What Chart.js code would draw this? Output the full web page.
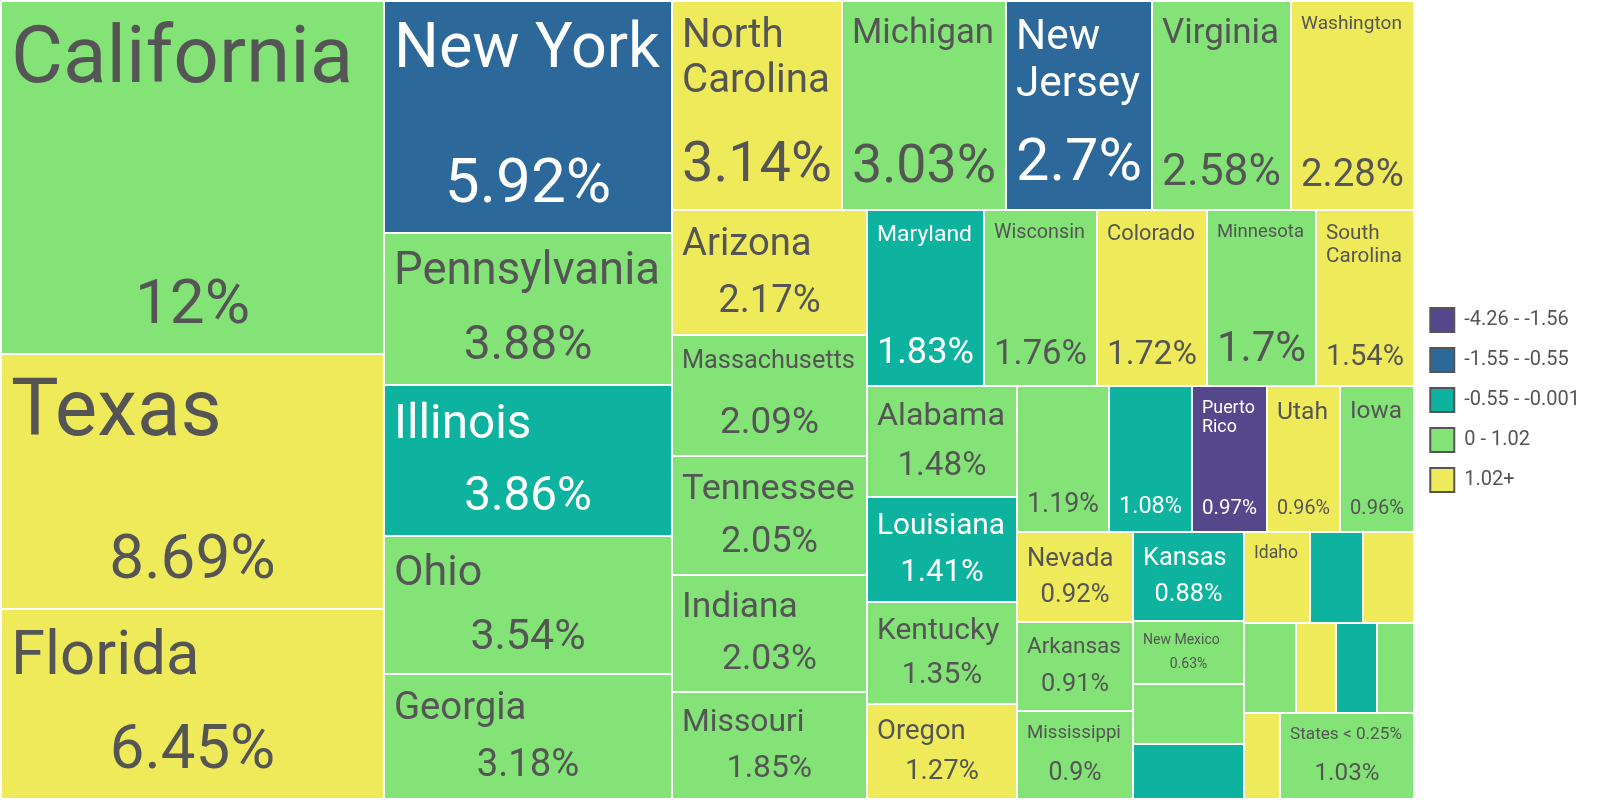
<!DOCTYPE html>
<html>
<head>
<meta charset="utf-8">
<script src="https://cdn.jsdelivr.net/npm/chart.js@4/dist/chart.umd.min.js"></script>
<style>
  html, body { margin: 0; padding: 0; background: #ffffff; }
  #wrap { width: 1600px; height: 800px; position: relative; }
</style>
</head>
<body>
<div id="wrap"><canvas id="chart"></canvas></div>
<script>
// ---- data (share of US population, %, colour class = growth bucket) ----
const states = [
  "California", "Texas", "Florida", "New York", "Pennsylvania", "Illinois", "Ohio", "Georgia",
  "North Carolina", "Michigan", "New Jersey", "Virginia", "Washington",
  "Arizona", "Massachusetts", "Tennessee", "Indiana", "Missouri",
  "Maryland", "Wisconsin", "Colorado", "Minnesota", "South Carolina",
  "Alabama", "Louisiana", "Kentucky", "Oregon",
  "Oklahoma", "Connecticut", "Puerto Rico", "Utah", "Iowa",
  "Nevada", "Arkansas", "Mississippi",
  "Kansas", "New Mexico", "Nebraska", "West Virginia",
  "Idaho", "Hawaii", "New Hampshire",
  "Maine", "Montana", "Rhode Island", "Delaware",
  "South Dakota", "States < 0.25%"
];
const shares = [
  12, 8.69, 6.45, 5.92, 3.88, 3.86, 3.54, 3.18,
  3.14, 3.03, 2.7, 2.58, 2.28,
  2.17, 2.09, 2.05, 2.03, 1.85,
  1.83, 1.76, 1.72, 1.7, 1.54,
  1.48, 1.41, 1.35, 1.27,
  1.19, 1.08, 0.97, 0.96, 0.96,
  0.92, 0.91, 0.9,
  0.88, 0.63, 0.59, 0.55,
  0.53, 0.43, 0.41,
  0.41, 0.32, 0.32, 0.3,
  0.27, 1.03
];
// index into legendLabels / classColors
const growthClass = [
  3, 4, 4, 1, 3, 2, 3, 3,
  4, 3, 1, 3, 4,
  4, 3, 3, 3, 3,
  2, 3, 4, 3, 4,
  3, 2, 3, 4,
  3, 2, 0, 4, 3,
  4, 3, 3,
  2, 3, 3, 2,
  4, 2, 4,
  3, 4, 2, 3,
  4, 3
];
const legendLabels = ["-4.26 - -1.56", "-1.55 - -0.55", "-0.55 - -0.001", "0 - 1.02", "1.02+"];
const classColors = ["#54478C", "#2C699A", "#0DB39E", "#83E377", "#EFEA5A"];
const darkText = "#555555";
const lightText = "#ffffff";
const FONT = "Roboto, 'Noto Sans', sans-serif";

// ---- squarified layout (golden-ratio squarify), in value space ----
function squarify(vals, W, H) {
  const phi = (1 + Math.sqrt(5)) / 2;
  const out = new Array(vals.length);
  let x0 = 0, y0 = 0, x1 = W, y1 = H;
  let value = vals.reduce((a, b) => a + b, 0);
  let i0 = 0, i1 = 0;
  const n = vals.length;
  while (i0 < n) {
    const dx = x1 - x0, dy = y1 - y0;
    let sumValue = vals[i1++];
    let minValue = sumValue, maxValue = sumValue;
    const alpha = Math.max(dy / dx, dx / dy) / (value * phi);
    let beta = sumValue * sumValue * alpha;
    let minRatio = Math.max(maxValue / beta, beta / minValue);
    for (; i1 < n; ++i1) {
      const nv = vals[i1];
      sumValue += nv;
      if (nv < minValue) minValue = nv;
      if (nv > maxValue) maxValue = nv;
      beta = sumValue * sumValue * alpha;
      const newRatio = Math.max(maxValue / beta, beta / minValue);
      if (newRatio > minRatio) { sumValue -= nv; break; }
      minRatio = newRatio;
    }
    if (dx < dy) {
      const ny = y0 + dy * sumValue / value;
      let x = x0; const k = (x1 - x0) / sumValue;
      for (let i = i0; i < i1; i++) { const nx = x + vals[i] * k; out[i] = { x0: x, y0: y0, x1: nx, y1: ny }; x = nx; }
      y0 = ny;
    } else {
      const nx = x0 + dx * sumValue / value;
      let y = y0; const k = (y1 - y0) / sumValue;
      for (let i = i0; i < i1; i++) { const ny = y + vals[i] * k; out[i] = { x0: x0, y0: y, x1: nx, y1: ny }; y = ny; }
      x0 = nx;
    }
    value -= sumValue;
    i0 = i1;
  }
  return out;
}

function emWidth(ctx, text) {
  ctx.font = "100px " + FONT;
  return ctx.measureText(text).width / 100;
}

const treemapPlugin = {
  id: 'treemap',
  afterDatasetsDraw(chart) {
    const { ctx, scales: { x, y } } = chart;
    const Wp = x.getPixelForValue(1) - x.getPixelForValue(0);
    const Hp = y.getPixelForValue(1) - y.getPixelForValue(0);
    // layout in pixel-proportional units, then expressed as scale values
    const cells = squarify(shares, Wp, Hp).map(c => ({
      x0: c.x0 / Wp, x1: c.x1 / Wp, y0: c.y0 / Hp, y1: c.y1 / Hp
    }));
    ctx.save();
    cells.forEach((c, i) => {
      const L = Math.round(x.getPixelForValue(c.x0)) + 1;
      const R = Math.round(x.getPixelForValue(c.x1)) - 1;
      const T = Math.round(y.getPixelForValue(c.y0)) + 1;
      const B = Math.round(y.getPixelForValue(c.y1)) - 1;
      const cls = growthClass[i];
      ctx.fillStyle = classColors[cls];
      ctx.fillRect(L, T, R - L, B - T);

      const w = R - L, h = B - T;
      if (h < 60) return;
      const txtColor = cls <= 2 ? lightText : darkText;
      ctx.fillStyle = txtColor;

      // name: one line or one word per line, whichever gives the bigger font
      const name = states[i];
      const options = [[name]];
      const words = name.split(' ');
      if (words.length > 1 && !name.includes('<')) options.push(words);
      let best = null;
      options.forEach(lines => {
        const em = Math.max(...lines.map(l => emWidth(ctx, l)));
        const wFit = (w - 20) / em;
        const hFit = lines.length === 1 ? 0.36 * h - 6 : (0.45 * h - 6) / lines.length;
        const f = Math.min(80, wFit, hFit);
        if (!best || f > best.f) best = { lines, f, wFit };
      });

      const pctText = shares[i] + '%';
      const pEm = emWidth(ctx, pctText);
      const pwFit = (w - 18) / pEm;
      const pf = Math.min(62, pwFit, 0.36 * h - 6);
      const small = h < 70;

      if (best && best.wFit >= 15.9 && best.f >= 10) {
        const nf = small ? Math.min(best.f, 0.23 * h) : best.f;
        ctx.font = nf + "px " + FONT;
        ctx.textAlign = 'left';
        ctx.textBaseline = 'alphabetic';
        best.lines.forEach((line, k) => {
          ctx.fillText(line, L + 9, T + 10 + 0.88 * nf + k * 1.1 * nf);
        });
      }
      if (pwFit >= 19) {
        const f2 = small ? Math.min(pf, 0.23 * h) : pf;
        ctx.font = f2 + "px " + FONT;
        ctx.textAlign = 'center';
        ctx.textBaseline = 'alphabetic';
        ctx.fillText(pctText, (L + R) / 2, B - (11 + 0.3 * f2));
      }
    });
    ctx.restore();
  }
};

new Chart(document.getElementById('chart'), {
  type: 'scatter',
  data: { datasets: [{ data: [] }] },
  plugins: [treemapPlugin],
  options: {
    responsive: true,
    maintainAspectRatio: false,
    animation: false,
    devicePixelRatio: 1,
    layout: { padding: { top: 1, bottom: 1, left: 1, right: 10 } },
    scales: {
      x: { type: 'linear', min: 0, max: 1, display: false },
      y: { type: 'linear', min: 0, max: 1, reverse: true, display: false }
    },
    plugins: {
      tooltip: { enabled: false },
      legend: {
        position: 'right',
        align: 'center',
        onClick: null,
        labels: {
          boxWidth: 24,
          boxHeight: 24,
          padding: 16,
          color: darkText,
          font: { family: FONT, size: 20 },
          generateLabels: () => legendLabels.map((t, i) => ({
            text: t,
            fillStyle: classColors[i],
            strokeStyle: darkText,
            lineWidth: 2,
            fontColor: darkText,
            hidden: false,
            index: i,
            datasetIndex: 0
          }))
        }
      }
    }
  }
});
</script>
</body>
</html>
